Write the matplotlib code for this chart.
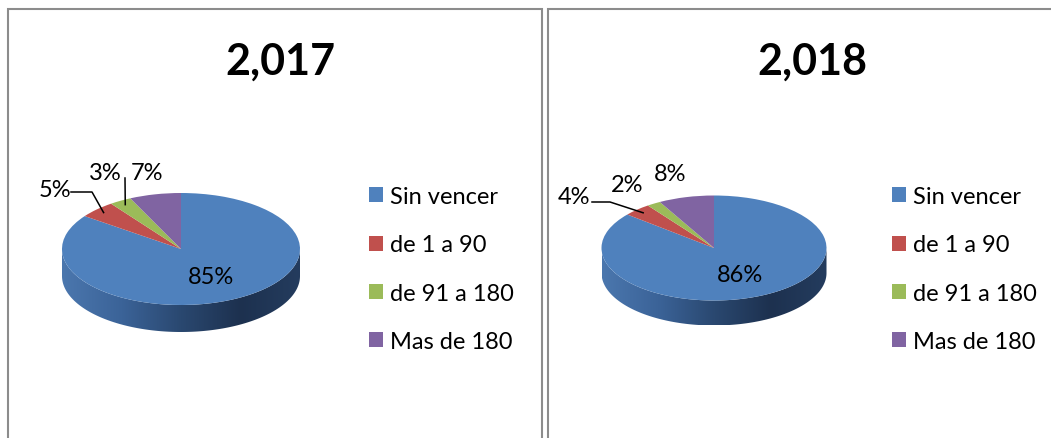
import numpy as np
import matplotlib
matplotlib.use('Agg')
import matplotlib.pyplot as plt
from matplotlib.colors import LinearSegmentedColormap
from matplotlib.patches import Polygon

# datos de la grafica
categorias = ['Sin vencer', 'de 1 a 90', 'de 91 a 180', 'Mas de 180']
anios = ['2,017', '2,018']
valores_2017 = [85, 5, 3, 7]
valores_2018 = [86, 4, 2, 8]
colores = ['#4f81bd', '#c0504d', '#9bbb59', '#8064a2']

W, H = 1051, 439
plt.rcParams['font.family'] = ['Lato', 'DejaVu Sans']

fig = plt.figure(figsize=(W / 100, H / 100), dpi=100)
ov = fig.add_axes([0, 0, 1, 1])
ov.set_xlim(0, W)
ov.set_ylim(H, 0)
ov.axis('off')
ov.set_zorder(10)

# marcos de los dos paneles
gris = '#8c8c8c'
ov.plot([8, 8, 542, 542], [H + 5, 10, 10, H + 5], color=gris, lw=1.5, solid_joinstyle='miter')
ov.plot([548, 548, W + 5], [H + 5, 10, 10], color=gris, lw=1.5, solid_joinstyle='miter')

# degradado del costado del pastel
lado = LinearSegmentedColormap.from_list('lado', ['#4b77ae', '#3b6398', '#2a4870', '#1d314f', '#243c5e'])

# posiciones (pixeles) de cada panel
paneles = [
    dict(vals=valores_2017, titulo=anios[0], cx=181, cy=250, rx=119, ry=56, prof=27,
         tx=280, leg=(369, 187),
         etq=[None, (55, 197, [(71, 193), (92, 193)]), (105, 180, [(125, 179)]), (147, 180, [])]),
    dict(vals=valores_2018, titulo=anios[1], cx=714, cy=249, rx=112.5, ry=52.5, prof=25,
         tx=812, leg=(892, 187),
         etq=[None, (574, 204, [(592, 203), (610, 203)]), (627, 192, []), (670, 181, [])]),
]

fs = 17

for p in paneles:
    d = p['prof'] / p['ry']
    pax = fig.add_axes([(p['cx'] - p['rx']) / W, 1 - (p['cy'] + p['ry'] + p['prof']) / H,
                        2 * p['rx'] / W, (2 * p['ry'] + p['prof']) / H])
    wedges, _ = pax.pie(p['vals'], colors=colores, startangle=90, counterclock=False,
                        wedgeprops=dict(linewidth=0))
    for w in wedges:
        w.set_zorder(3)
        w.set_clip_on(False)

    # costado (frente) del pastel
    t = np.linspace(np.pi, 2 * np.pi, 200)
    xs = np.concatenate([np.cos(t), np.cos(t[::-1])])
    ys = np.concatenate([np.sin(t), np.sin(t[::-1]) - d])
    poly = Polygon(np.column_stack([xs, ys]), closed=True, facecolor='none', edgecolor='none',
                   transform=pax.transData)
    pax.add_patch(poly)
    grad = np.linspace(0, 1, 256).reshape(1, -1)
    im = pax.imshow(grad, cmap=lado, extent=[-1, 1, -1 - d, 0.05], aspect='auto', zorder=1)
    im.set_clip_path(poly)

    pax.set_aspect('auto')
    pax.set_xlim(-1, 1)
    pax.set_ylim(-1 - d, 1)
    pax.axis('off')

    def a_ov(x, y):
        return ov.transData.inverted().transform(pax.transData.transform((x, y)))

    # titulo
    ov.text(p['tx'], 62, p['titulo'], ha='center', va='center', fontsize=31, fontweight='bold')

    # etiquetas de porcentaje
    for i, (w, v) in enumerate(zip(wedges, p['vals'])):
        mid = np.deg2rad((w.theta1 + w.theta2) / 2)
        e = p['etq'][i]
        if e is None:
            r = 0.55
            x, y = a_ov(r * np.cos(mid), r * np.sin(mid))
            ov.text(x, y, f'{v}%', ha='center', va='center', fontsize=fs)
        else:
            ov.text(e[0], e[1], f'{v}%', ha='center', va='baseline', fontsize=fs)
            if e[2]:
                fx, fy = a_ov(0.92 * np.cos(mid), 0.92 * np.sin(mid))
                px = [q[0] for q in e[2]] + [fx]
                py = [q[1] for q in e[2]] + [fy]
                ov.plot(px, py, color='black', lw=1.1)

    # leyenda
    pax.legend(wedges, categorias, loc='upper left', bbox_to_anchor=p['leg'],
               bbox_transform=ov.transData, frameon=False, borderpad=0, borderaxespad=0,
               fontsize=fs, handlelength=0.6, handleheight=0.6, handletextpad=0.3,
               labelspacing=1.16)

fig.savefig('out.png', dpi=100)
